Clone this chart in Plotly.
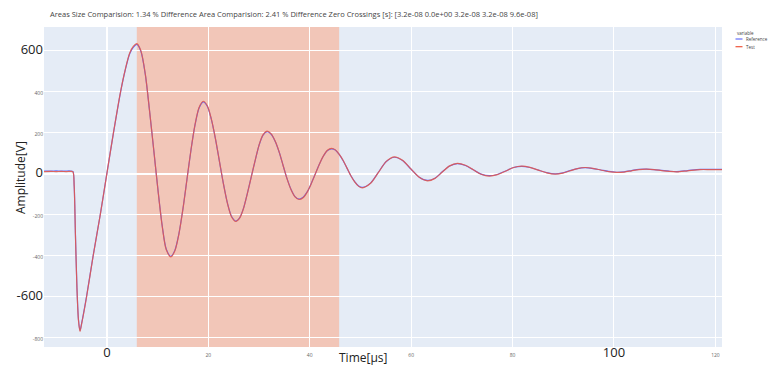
import plotly.graph_objects as go

# time axis [µs]
time_us = [-12.4, -11, -10, -9, -8, -7.2, -6.7, -6.45, -6.2, -5.9, -5.6, -5.3, -5.0, -4.0, -2.7, -1.3,
           0, 1.3, 2.7, 3.6, 4.5, 5.2, 5.9, 6.7, 7.6, 8.4, 9.25, 10.1, 10.9, 11.7, 12.6,
           13.4, 14.2, 15.0, 15.8, 16.6, 17.4, 18.2, 19.0,
           19.8, 20.6, 21.4, 22.2, 23.0, 23.8, 24.6, 25.4,
           26.2, 26.95, 27.7, 28.5, 29.3, 30.05, 30.8, 31.6,
           32.4, 33.2, 34.0, 34.75, 35.5, 36.3, 37.1, 37.9,
           38.7, 39.5, 40.3, 41.1, 41.9, 42.7, 43.5, 44.3,
           45.05, 45.8, 46.6, 47.35, 48.1, 48.9, 49.65, 50.4,
           52.0, 53.55, 55.1, 56.7, 58.3, 59.95, 61.6, 63.2, 64.7, 66.15, 67.6,
           69.1, 70.7, 72.25, 73.8, 75.4, 77.0, 78.6, 80.2, 81.8, 83.45, 85.1, 86.75, 88.4, 89.9,
           91.35, 92.8, 94.3, 95.85, 97.4, 98.95, 100.5, 102.0, 103.45, 104.9, 106.4, 107.9, 109.4,
           110.9, 112.4, 114.5, 117, 119, 121.3]

test_v = [10, 11, 10, 11, 10, 11, 9, -60, -300, -560, -715, -769, -735, -600, -400, -200,
          0, 200, 400, 505, 588, 620, 634, 600, 482, 310, 114, -86, -254, -370, -406,
          -377, -295, -172, -27, 119, 242, 324, 353,
          331, 267, 172, 60, -52, -147, -211, -233,
          -216, -169, -97, -13, 71, 143, 190, 207,
          194, 158, 104, 40, -23, -77, -113, -126,
          -117, -90, -49, -2, 46, 87, 114, 123,
          116, 95, 64, 27, -10, -41, -62, -69,
          -47, 6, 60, 82, 65, 23, -18, -35, -23, 8, 38,
          50, 41, 19, -3, -12, -5, 12, 30, 37, 31, 17, 4, -2, 3,
          14, 25, 30, 26, 18, 10, 6, 8, 14, 20, 22, 20, 15,
          11, 9, 14, 20, 20, 20]

reference_v = [13, 12, 14, 12, 13, 13, 11, -58, -297, -556, -712, -765, -732, -597, -398, -199,
               1, 199, 398, 503, 585, 616, 630, 597, 480, 309, 113, -85, -252, -367, -403,
               -374, -293, -171, -26, 118, 240, 321, 350,
               329, 265, 171, 59, -51, -146, -209, -231,
               -214, -168, -96, -12, 70, 142, 188, 205,
               192, 157, 103, 40, -22, -76, -112, -124,
               -115, -89, -48, -1, 46, 86, 113, 121,
               115, 94, 63, 27, -9, -40, -60, -67,
               -46, 7, 59, 80, 64, 23, -17, -33, -22, 9, 37,
               49, 40, 19, -2, -10, -4, 13, 30, 36, 30, 17, 5, -1, 4,
               15, 25, 29, 25, 18, 11, 7, 9, 15, 21, 22, 20, 16,
               12, 10, 15, 21, 21, 21]

series_names = ["Reference", "Test"]
series_colors = ["#636efa", "#EF553B"]
series_opacity = [1.0, 0.8]
legend_title = "variable"

x_ticks = [0, 20, 40, 60, 80, 100, 120]
x_big = [0, 100]
y_ticks = [-800, -600, -400, -200, 0, 200, 400, 600]
y_big = [-600, 0, 600]

window = [5.9, 45.8]

title_text = ("Areas Size Comparision: 1.34 % Difference Area Comparision: 2.41 % Difference "
              "Zero Crossings [s]: [3.2e-08 0.0e+00 3.2e-08 3.2e-08 9.6e-08]")

W, H = 772, 370
ML, MR, MT, MB = 44, 50, 27, 23
PW, PH = W - ML - MR, H - MT - MB


def px_x(p):
    return (p - ML) / PW


def px_y(p):
    return (H - MB - p) / PH


def lab(v, big):
    if v in big:
        return f"<span style='font-size:13px;color:#222'>{v}</span>"
    return f"<span style='font-size:5px;color:#666'>{v}</span>"


fig = go.Figure()
for name, vals, col, op in zip(series_names, [reference_v, test_v], series_colors, series_opacity):
    fig.add_trace(go.Scatter(x=time_us, y=vals, mode="lines", name=name, opacity=op,
                             showlegend=False,
                             line=dict(color=col, width=1.2, shape="spline", smoothing=0.8)))

fig.add_vrect(x0=window[0], x1=window[1], fillcolor="LightSalmon", opacity=0.5,
              layer="below", line_width=0)

# compact legend (title + entries) at the right edge
annotations = [
    dict(text="Time[µs]", xref="paper", yref="paper", x=px_x(363), y=px_y(357),
         xanchor="center", yanchor="middle", showarrow=False, font=dict(size=12, color="#222")),
    dict(text="Amplitude[V]", xref="paper", yref="paper", x=px_x(20), y=px_y(178),
         xanchor="center", yanchor="middle", textangle=-90, showarrow=False,
         font=dict(size=12, color="#222")),
    dict(text=legend_title, xref="paper", yref="paper", x=px_x(735), y=px_y(32.5),
         xanchor="left", yanchor="middle", showarrow=False, font=dict(size=4.5, color="#444")),
]
for i, (name, col) in enumerate(zip(series_names, series_colors)):
    yy = 39 + i * 7.7
    fig.add_shape(type="line", xref="paper", yref="paper", x0=px_x(735.5), x1=px_x(742.5),
                  y0=px_y(yy), y1=px_y(yy), line=dict(color=col, width=1.2))
    annotations.append(dict(text=name, xref="paper", yref="paper", x=px_x(744), y=px_y(yy),
                            xanchor="left", yanchor="middle", showarrow=False,
                            font=dict(size=4.5, color="#444")))

fig.update_layout(
    width=W, height=H,
    margin=dict(l=ML, r=MR, t=MT, b=MB, autoexpand=False),
    plot_bgcolor="#E5ECF6", paper_bgcolor="white",
    font=dict(family="Open Sans", size=6, color="#444"),
    title=dict(text=title_text, x=50 / W, xanchor="left", y=1 - 14 / H, yanchor="middle",
               font=dict(size=7.5, color="#444")),
    showlegend=False,
    xaxis=dict(range=[-12.4, 121.3], tickvals=x_ticks, ticktext=[lab(v, x_big) for v in x_ticks],
               tickfont=dict(size=9), gridcolor="white", zerolinecolor="white", zerolinewidth=1.5,
               showline=False),
    yaxis=dict(range=[-845, 715], tickvals=y_ticks, ticktext=[lab(v, y_big) for v in y_ticks],
               tickfont=dict(size=9), gridcolor="white", zerolinecolor="white", zerolinewidth=1.5),
    annotations=annotations,
)

fig.write_html("out.html")
